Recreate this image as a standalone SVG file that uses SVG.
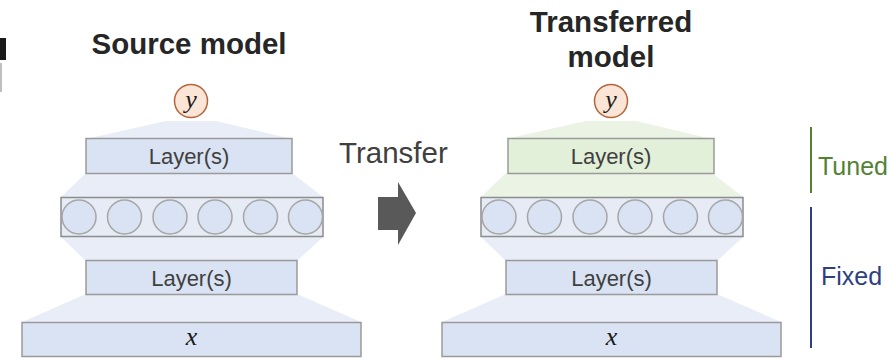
<svg xmlns="http://www.w3.org/2000/svg" width="889" height="363" viewBox="0 0 889 363">
<style>
.title{font-family:"Liberation Sans",Arial,sans-serif;font-weight:bold;font-size:29.5px;fill:#262626;text-anchor:middle}
.lbl{font-family:"Liberation Sans",Arial,sans-serif;font-size:22px;fill:#404040;text-anchor:middle}
.math{font-family:"Liberation Serif","Times New Roman",serif;font-style:italic;font-size:26px;fill:#1a1a1a;text-anchor:middle}
.box{fill:#dae3f3;stroke:#9a9a9a;stroke-width:1.5}
.boxg{fill:#e2efd9;stroke:#9a9a9a;stroke-width:1.5}
.row{fill:#e6ebf5;stroke:#8c8c8c;stroke-width:1.5}
.unit{fill:#dae3f3;stroke:#a6a6a6;stroke-width:1.5}
.fan{fill:#e8edf7}
.fang{fill:#ebf3e5}
.out{fill:#fbe5d6;stroke:#b5653a;stroke-width:1.5}
.side{font-family:"Liberation Sans",Arial,sans-serif;font-size:25px}
</style>
<defs>
<g id="units">
<circle class="unit" cx="79" cy="217" r="17"/>
<circle class="unit" cx="124.5" cy="217" r="17"/>
<circle class="unit" cx="170" cy="217" r="17"/>
<circle class="unit" cx="215" cy="217" r="17"/>
<circle class="unit" cx="260.5" cy="217" r="17"/>
<circle class="unit" cx="305.5" cy="217" r="17"/>
</g>
</defs>
<!-- cropped slide artifacts at left edge -->
<rect x="0" y="38" width="6" height="22" fill="#1a1a1a"/>
<rect x="0" y="63" width="2" height="29" fill="#bfbfbf"/>

<g id="connectors">
<polygon class="fan" points="166,121 216,121 292,139 86,139"/>
<polygon class="fan" points="86,173 292,173 323,197 61,197"/>
<polygon class="fan" points="61,237 323,237 297,261 86,261"/>
<polygon class="fan" points="86,294 297,294 361,322 22,322"/>
<polygon class="fang" points="586,121 636,121 712,139 506,139"/>
<polygon class="fang" points="506,173 712,173 743,197 481,197"/>
<polygon class="fan" points="481,237 743,237 717,261 506,261"/>
<polygon class="fan" points="506,294 717,294 781,322 442,322"/>
<polygon points="378,197 398,197 398,182 416,213 398,245 398,230 378,230" fill="#595959"/>
</g>

<g id="source-title"><text class="title" x="189" y="54">Source model</text></g>
<g id="source-y"><circle class="out" cx="191" cy="101" r="16.5"/><text class="math" x="191" y="108">y</text></g>
<g id="source-top"><rect class="box" x="86" y="138.5" width="206" height="35"/><text class="lbl" x="189" y="164">Layer(s)</text></g>
<g id="source-hidden"><rect class="row" x="61" y="197.5" width="262" height="39"/><use href="#units"/></g>
<g id="source-bottom"><rect class="box" x="86" y="260.5" width="211" height="34"/><text class="lbl" x="191.5" y="285.5">Layer(s)</text></g>
<g id="source-x"><rect class="box" x="22" y="322.5" width="339" height="34"/><text class="math" x="191.5" y="345">x</text></g>

<g id="transfer-label"><text x="339" y="163" font-family="Liberation Sans,Arial,sans-serif" font-size="29.5" fill="#404040">Transfer</text></g>

<g id="transferred-title"><text class="title" x="611" y="32">Transferred</text><text class="title" x="611" y="67">model</text></g>
<g id="transferred-y"><circle class="out" cx="611" cy="101" r="16.5"/><text class="math" x="611" y="108">y</text></g>
<g id="transferred-top"><rect class="boxg" x="508" y="138.5" width="206" height="35"/><text class="lbl" x="611" y="164">Layer(s)</text></g>
<g id="transferred-hidden"><rect class="row" x="481" y="197.5" width="262" height="39"/><use href="#units" transform="translate(420,0)"/></g>
<g id="transferred-bottom"><rect class="box" x="506" y="260.5" width="211" height="34"/><text class="lbl" x="611.5" y="285.5">Layer(s)</text></g>
<g id="transferred-x"><rect class="box" x="442" y="322.5" width="339" height="34"/><text class="math" x="611.5" y="345">x</text></g>

<g id="tuned"><line x1="811" y1="127" x2="811" y2="193" stroke="#548235" stroke-width="2"/><text class="side" x="818" y="175" fill="#548235">Tuned</text></g>
<g id="fixed"><line x1="811" y1="207" x2="811" y2="348" stroke="#2f3f7f" stroke-width="2"/><text class="side" x="821" y="285" fill="#2f3f7f">Fixed</text></g>
</svg>
